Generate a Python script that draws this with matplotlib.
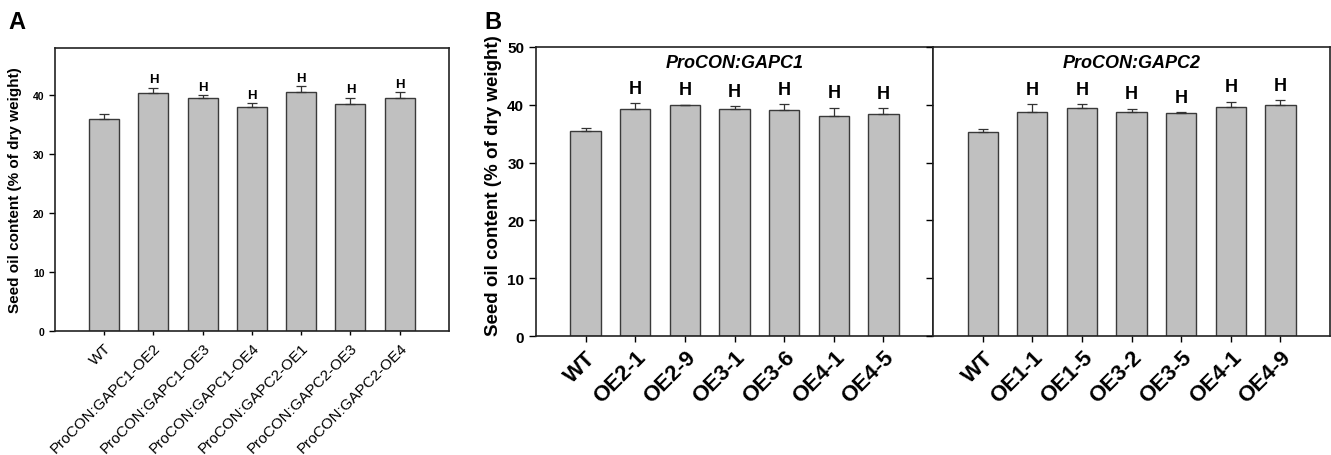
import numpy as np
import matplotlib
matplotlib.use('Agg')
import matplotlib.pyplot as plt

plt.rcParams['font.family'] = ['Liberation Sans', 'DejaVu Sans']

# panel A data
a_labels = ['WT', 'ProCON:GAPC1-OE2', 'ProCON:GAPC1-OE3', 'ProCON:GAPC1-OE4',
            'ProCON:GAPC2-OE1', 'ProCON:GAPC2-OE3', 'ProCON:GAPC2-OE4']
a_values = [36.0, 40.3, 39.5, 38.0, 40.5, 38.5, 39.5]
a_errors = [0.8, 1.0, 0.6, 0.7, 1.0, 1.1, 1.0]
a_marks = ['', 'H', 'H', 'H', 'H', 'H', 'H']

# panel B data
b1_labels = ['WT', 'OE2-1', 'OE2-9', 'OE3-1', 'OE3-6', 'OE4-1', 'OE4-5']
b1_values = [35.4, 39.3, 39.9, 39.2, 39.1, 38.1, 38.3]
b1_errors = [0.5, 0.9, 0.1, 0.6, 1.0, 1.4, 1.1]
b2_labels = ['WT', 'OE1-1', 'OE1-5', 'OE3-2', 'OE3-5', 'OE4-1', 'OE4-9']
b2_values = [35.3, 38.8, 39.5, 38.7, 38.6, 39.6, 40.0]
b2_errors = [0.5, 1.3, 0.6, 0.6, 0.1, 0.9, 0.8]
b_marks = ['', 'H', 'H', 'H', 'H', 'H', 'H']

BAR_FC = '#c0c0c0'
BAR_EC = '#3a3a3a'


def draw_bars(ax, values, errors, marks, mark_size, mark_offset):
    x = np.arange(len(values))
    ax.bar(x, values, width=0.61, color=BAR_FC, edgecolor=BAR_EC, linewidth=1.0, zorder=2)
    ax.errorbar(x, values, yerr=[np.zeros(len(errors)), errors], fmt='none',
                ecolor='#333333', elinewidth=0.9, capsize=3.5, capthick=0.9, zorder=3)
    for xi, v, e, m in zip(x, values, errors, marks):
        if m:
            ax.annotate(m, (xi, v + e), xytext=(0, mark_offset), textcoords='offset points',
                        ha='center', va='bottom', fontsize=mark_size, fontweight='bold')
    ax.set_xlim(-1, 7)
    ax.set_xticks(x)
    for s in ax.spines.values():
        s.set_linewidth(1.2)
        s.set_color('#222222')


fig = plt.figure(figsize=(13.31, 4.56), dpi=100)

# ---- panel A
axA = fig.add_axes([0.0413, 0.2719, 0.2960, 0.6206])
draw_bars(axA, a_values, a_errors, a_marks, 9.5, 1.5)
axA.set_ylim(0, 48)
axA.set_yticks([0, 10, 20, 30, 40])
axA.tick_params(axis='y', direction='out', length=4, labelsize=7.5, width=1)
axA.tick_params(axis='x', direction='out', length=3, width=1)
for t in axA.get_yticklabels():
    t.set_fontweight('bold')
axA.set_xticklabels(a_labels, rotation=45, ha='right', va='top', rotation_mode='anchor',
                    fontsize=11)
axA.set_ylabel('Seed oil content (% of dry weight)', fontsize=11, fontweight='bold', labelpad=8)
fig.text(0.006, 0.975, 'A', fontsize=17, fontweight='bold', va='top', ha='left')

# ---- panel B
axB1 = fig.add_axes([0.4027, 0.2603, 0.2983, 0.6351])
axB2 = fig.add_axes([0.7010, 0.2603, 0.2983, 0.6351])
draw_bars(axB1, b1_values, b1_errors, b_marks, 13, 4.5)
draw_bars(axB2, b2_values, b2_errors, b_marks, 13, 4.5)
for ax, labels, title in [(axB1, b1_labels, 'ProCON:GAPC1'), (axB2, b2_labels, 'ProCON:GAPC2')]:
    ax.set_ylim(0, 50)
    ax.set_yticks([0, 10, 20, 30, 40, 50])
    ax.tick_params(axis='y', direction='out', length=5, labelsize=11, width=1)
    ax.tick_params(axis='x', direction='out', length=4, width=1)
    ax.set_xticklabels(labels, rotation=45, ha='right', va='top', rotation_mode='anchor',
                       fontsize=16, fontweight='bold')
    ax.text(0.5, 0.944, title, transform=ax.transAxes, ha='center', va='center',
            fontsize=13, fontweight='bold', fontstyle='italic')
for t in axB1.get_yticklabels():
    t.set_fontweight('bold')
axB2.set_yticklabels([])
axB1.set_ylabel('Seed oil content (% of dry weight)', fontsize=13.5, fontweight='bold')
axB1.yaxis.set_label_coords(-0.085, 0.525)
fig.text(0.364, 0.975, 'B', fontsize=17, fontweight='bold', va='top', ha='left')

fig.savefig('out.png', dpi=100)
